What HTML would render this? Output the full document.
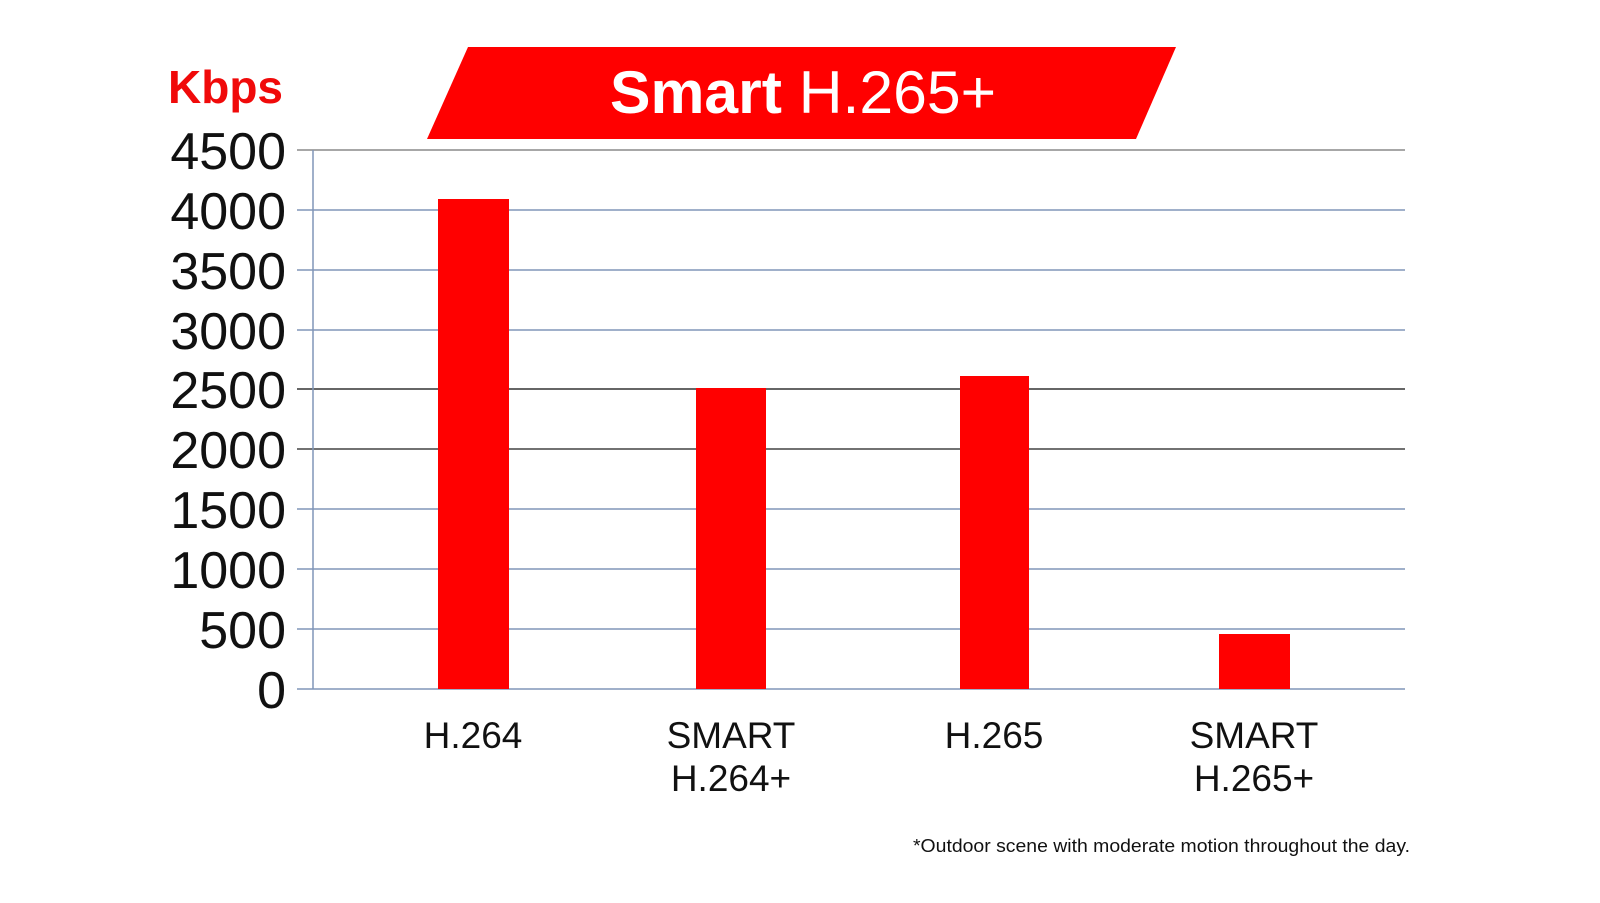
<!DOCTYPE html>
<html><head><meta charset="utf-8"><style>
html,body{margin:0;padding:0;background:#fff;}
svg{display:block;}
</style></head><body>
<svg width="1600" height="903" viewBox="0 0 1600 903" xmlns="http://www.w3.org/2000/svg" font-family="Liberation Sans, sans-serif">
<rect width="1600" height="903" fill="#fff"/>
<polygon points="468,47 1176,47 1136,139 427,139" fill="#ff0000"/>
<text x="803" y="113" text-anchor="middle" font-size="60" fill="#fff" textLength="386" lengthAdjust="spacingAndGlyphs"><tspan font-weight="bold">Smart</tspan> H.265+</text>
<text x="168" y="103" font-size="46" font-weight="bold" fill="#f00a0a">Kbps</text>
<g stroke-width="1.5">
<line x1="297" y1="150" x2="1405" y2="150" stroke="#8a8a8a"/>
<line x1="297" y1="210" x2="1405" y2="210" stroke="#8096b8"/>
<line x1="297" y1="270" x2="1405" y2="270" stroke="#8096b8"/>
<line x1="297" y1="330" x2="1405" y2="330" stroke="#8096b8"/>
<line x1="297" y1="389" x2="1405" y2="389" stroke="#333"/>
<line x1="297" y1="449" x2="1405" y2="449" stroke="#444"/>
<line x1="297" y1="509" x2="1405" y2="509" stroke="#8096b8"/>
<line x1="297" y1="569" x2="1405" y2="569" stroke="#8096b8"/>
<line x1="297" y1="629" x2="1405" y2="629" stroke="#8096b8"/>
<line x1="297" y1="689" x2="1405" y2="689" stroke="#8096b8"/>
<line x1="313" y1="150" x2="313" y2="689" stroke="#8096b8"/>
</g>
<g fill="#f00">
<rect x="438" y="199" width="71" height="490"/>
<rect x="696" y="388" width="70" height="301"/>
<rect x="960" y="376" width="69" height="313"/>
<rect x="1219" y="634" width="71" height="55"/>
</g>
<g font-size="52" fill="#111" text-anchor="end">
<text x="286" y="169">4500</text>
<text x="286" y="229">4000</text>
<text x="286" y="289">3500</text>
<text x="286" y="349">3000</text>
<text x="286" y="408">2500</text>
<text x="286" y="468">2000</text>
<text x="286" y="528">1500</text>
<text x="286" y="588">1000</text>
<text x="286" y="648">500</text>
<text x="286" y="708">0</text>
</g>
<g font-size="37" fill="#111" text-anchor="middle">
<text x="473" y="748">H.264</text>
<text x="731" y="748">SMART</text>
<text x="731" y="791">H.264+</text>
<text x="994" y="748">H.265</text>
<text x="1254" y="748">SMART</text>
<text x="1254" y="791">H.265+</text>
</g>
<text x="913" y="852" font-size="18" fill="#111" textLength="497" lengthAdjust="spacingAndGlyphs">*Outdoor scene with moderate motion throughout the day.</text>
</svg>
</body></html>
